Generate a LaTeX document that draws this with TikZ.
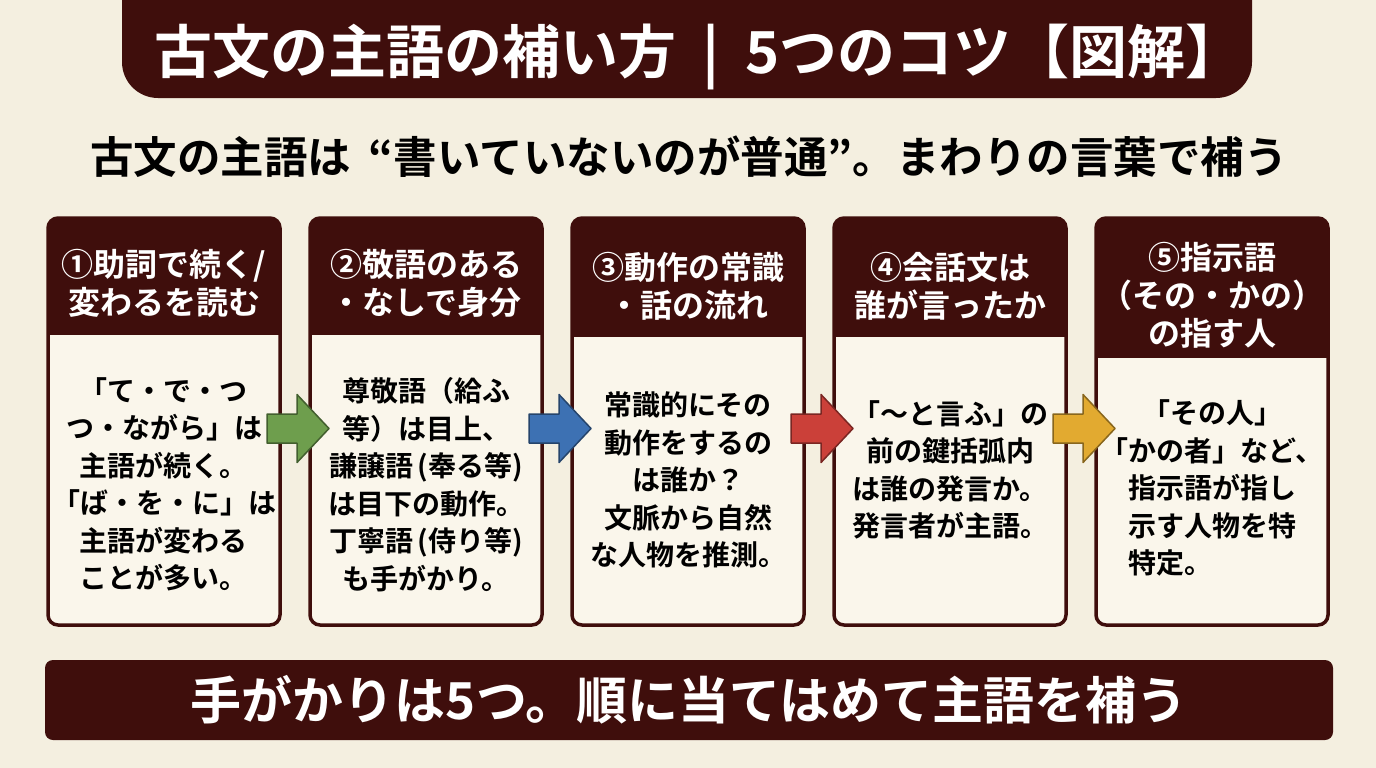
\documentclass[tikz,border=0pt]{standalone}
\usepackage{fontspec}
\setmainfont{Noto Sans CJK JP}[BoldFont={Noto Sans CJK JP Bold}]
\usetikzlibrary{positioning,calc}
\definecolor{paper}{HTML}{F4EFE0}
\definecolor{kobun}{HTML}{3F0E0C}
\definecolor{cardcream}{HTML}{FAF6EB}
\definecolor{tipgreen}{HTML}{6E9E4D}
\definecolor{tipblue}{HTML}{3D71B3}
\definecolor{tipred}{HTML}{CB4039}
\definecolor{tipgold}{HTML}{E2AA30}

\begin{document}
\begin{tikzpicture}[x=1pt, y=-1pt,
  every node/.style={font=\bfseries},
  card/.style={draw=kobun, line width=3.5pt, fill=cardcream, rounded corners=10pt,
    minimum width=232pt, minimum height=407pt, inner sep=0pt, outer sep=0pt},
  headtext/.style={text=white, align=center, inner sep=0pt,
    font=\fontsize{32}{38}\selectfont\bfseries},
  bodytext/.style={text=black, align=center, inner sep=0pt,
    font=\fontsize{28}{37.5}\selectfont\bfseries},
  banner/.style={fill=kobun, text=white, rounded corners=8pt, inner sep=0pt,
    font=\fontsize{51}{56}\selectfont\bfseries}]
\useasboundingbox (0,0) rectangle (1376,768);
\fill[paper] (0,0) rectangle (1376,768);
\clip (0,0) rectangle (1376,768);
% title band
\fill[kobun, rounded corners=36pt] (122,-50) rectangle (1252,98);
\node[text=white, font=\fontsize{58}{62}\selectfont\bfseries] (title) at (699,57)
  {古文の主語の補い方\hspace{0.45em}|\hspace{0.45em}5つのコツ【図解】};
\node[font=\fontsize{43.5}{48}\selectfont\bfseries] (lead) at (689,157)
  {古文の主語は\hspace{0.4em}“書いていないのが普通”。まわりの言葉で補う};
% cards
\node[card] (c1) at (164,421.5) {};
\node[card, right=30pt of c1] (c2) {};
\node[card, right=30pt of c2] (c3) {};
\node[card, right=30pt of c3] (c4) {};
\node[card, right=30pt of c4] (c5) {};
\foreach \c/\hh in {c1/117, c2/117, c3/119, c4/119, c5/140} {
  \fill[kobun, rounded corners=10pt] (\c.north west) rectangle ($(\c.north east)+(0,40)$);
  \fill[kobun] ($(\c.north west)+(0,20)$) rectangle ($(\c.north east)+(0,\hh)$);}
\node[headtext] (h1) at ($(c1.north)+(0,65.5)$) {①助詞で続く/\\変わるを読む};
\node[headtext] (h2) at ($(c2.north)+(0,65.5)$) {②敬語のある\\・なしで身分};
\node[headtext] (h3) at ($(c3.north)+(0,68.5)$) {③動作の常識\\・話の流れ};
\node[headtext] (h4) at ($(c4.north)+(0,68.5)$) {④会話文は\\誰が言ったか};
\node[headtext] (h5) at ($(c5.north)+(0,77)$) {⑤指示語\\（その・かの）\\の指す人};
\node[bodytext] (b1) at ($(c1.south)+(0,-140.5)$)
  {「て・で・つ\\つ・ながら」は\\主語が続く。\\「ば・を・に」は\\主語が変わる\\ことが多い。};
\node[bodytext] (b2) at ($(c2.south)+(0,-140.5)$)
  {尊敬語（給ふ\\等）は目上、\\謙譲語\,(奉る等)\\は目下の動作。\\丁寧語\,(侍り等)\\も手がかり。};
\node[bodytext] (b3) at ($(c3.south)+(0,-145)$)
  {常識的にその\\動作をするの\\は誰か？\\文脈から自然\\な人物を推測。};
\node[bodytext] (b4) at ($(c4.south)+(0,-155)$)
  {「〜と言ふ」の\\前の鍵括弧内\\は誰の発言か。\\発言者が主語。};
\node[bodytext] (b5) at ($(c5.south)+(0,-137)$)
  {「その人」\\「かの者」など、\\指示語が指し\\示す人物を特\\\makebox[6em][l]{特定。}};
% block arrows between cards
\foreach \src/\dst/\col in {c1/c2/tipgreen, c2/c3/tipblue, c3/c4/tipred, c4/c5/tipgold} {
  \begin{scope}[shift={($(\src.east)!0.5!(\dst.west)+(3,7)$)}]
    \filldraw[fill=\col, draw=\col!60!black, line width=1.5pt, line join=round]
      (-31,-14.5) -- (-1,-14.5) -- (-1,-34) -- (31,0) -- (-1,34) -- (-1,14.5) -- (-31,14.5) -- cycle;
  \end{scope}}
% summary
\node[banner, minimum width=1288pt, minimum height=80pt] (summary) at (689,700)
  {手がかりは5つ。順に当てはめて主語を補う};
\end{tikzpicture}
\end{document}
